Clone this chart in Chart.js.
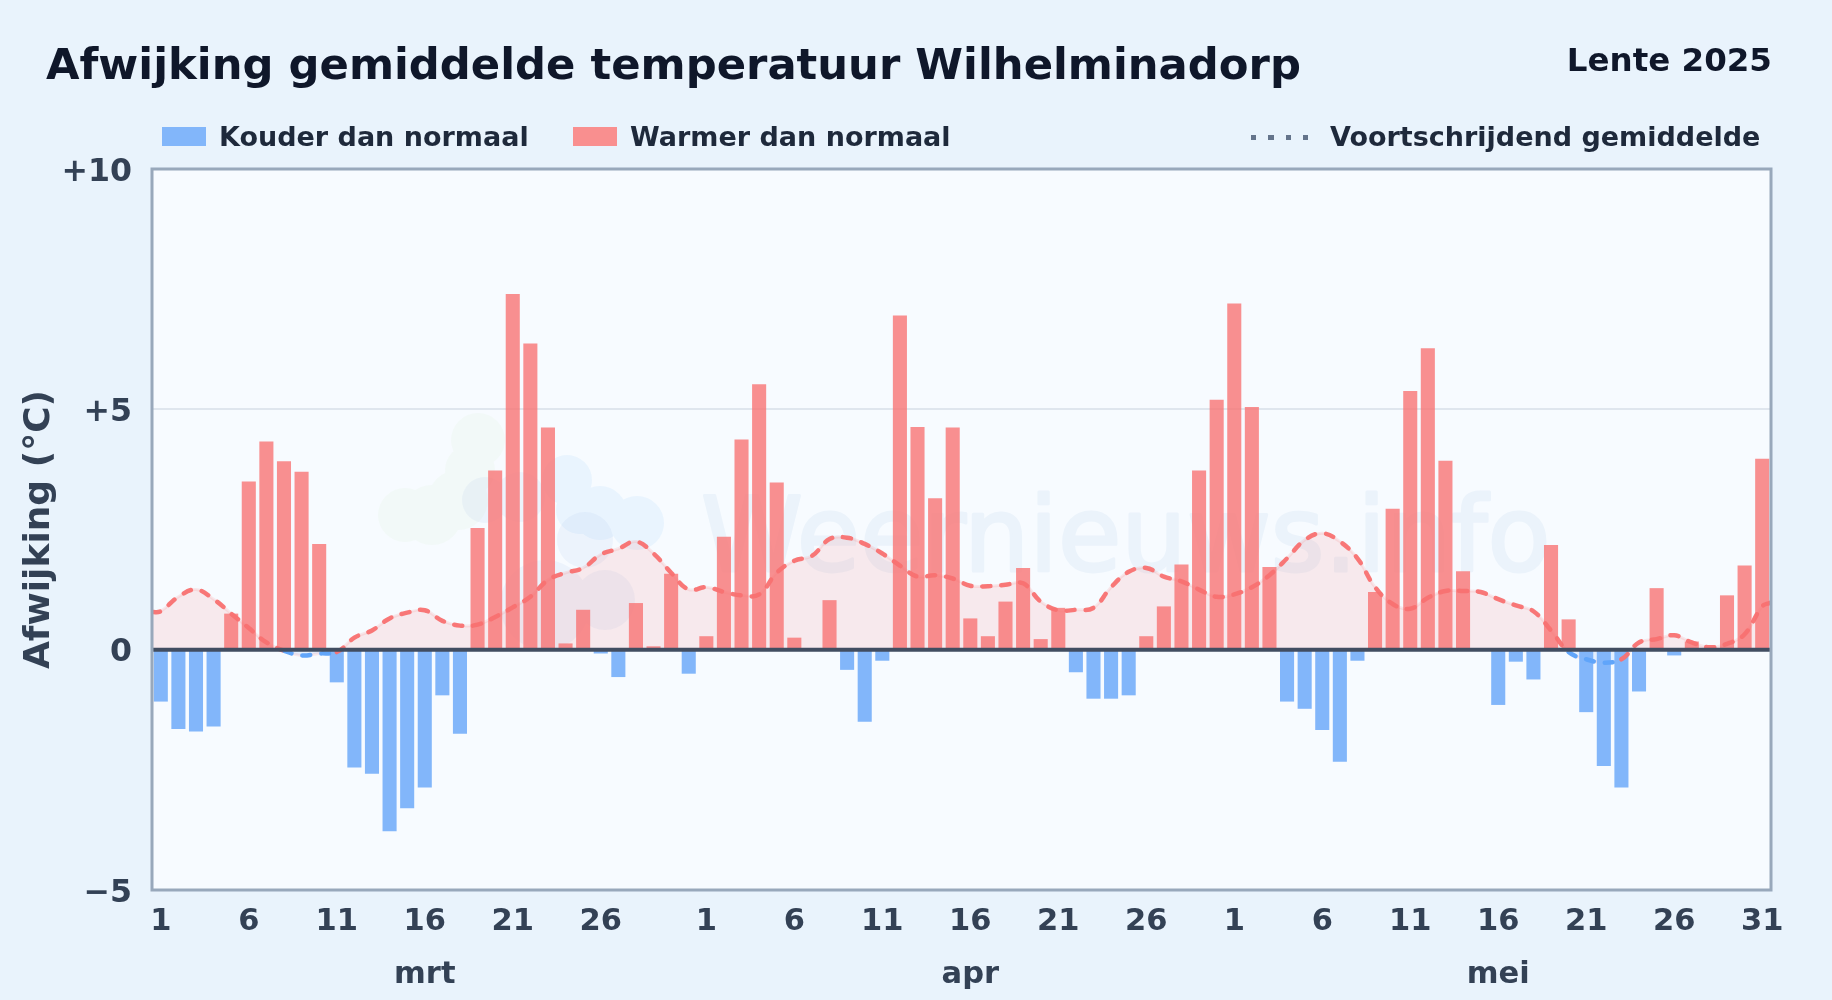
<!DOCTYPE html>
<html lang="nl">
<head>
<meta charset="utf-8">
<title>Afwijking gemiddelde temperatuur Wilhelminadorp</title>
<script src="https://cdn.jsdelivr.net/npm/chart.js@4"></script>
<style>
    html, body { margin: 0; padding: 0; }
    body {
        width: 1832px; height: 1000px; position: relative; overflow: hidden;
        background: #e9f3fc;
        font-family: "DejaVu Sans", sans-serif; font-weight: bold;
    }
    canvas { position: absolute; left: 0; top: 0; }
    .txt { position: absolute; white-space: nowrap; line-height: 1; }
    #title { left: 46px; top: 43px; font-size: 43.3px; color: #0f172a; }
    #period { right: 60px; top: 44px; font-size: 32.5px; color: #0f172a; }
    .legend { top: 123px; font-size: 27px; color: #1e293b; }
    .patch { position: absolute; top: 127px; width: 44px; height: 19px; }
    #dots {
        position: absolute; left: 1251px; top: 135px; width: 58px; height: 5px;
        background: repeating-linear-gradient(90deg, #64748b 0 5px, transparent 5px 17.5px);
    }
</style>
</head>
<body>
<canvas id="chart" width="1832" height="1000"></canvas>
<div class="txt" id="title">Afwijking gemiddelde temperatuur Wilhelminadorp</div>
<div class="txt" id="period">Lente 2025</div>
<div class="patch" style="left:162px;background:#82b6fa"></div>
<div class="txt legend" style="left:219px">Kouder dan normaal</div>
<div class="patch" style="left:573px;background:#f98f8f"></div>
<div class="txt legend" style="left:630px">Warmer dan normaal</div>
<div id="dots"></div>
<div class="txt legend" style="left:1330px">Voortschrijdend gemiddelde</div>
<script>
const days = [
    1,2,3,4,5,6,7,8,9,10,11,12,13,14,15,16,17,18,19,20,21,22,23,24,25,26,27,28,29,30,31,
    1,2,3,4,5,6,7,8,9,10,11,12,13,14,15,16,17,18,19,20,21,22,23,24,25,26,27,28,29,30,
    1,2,3,4,5,6,7,8,9,10,11,12,13,14,15,16,17,18,19,20,21,22,23,24,25,26,27,28,29,30,31
];
const tickDays = [1, 6, 11, 16, 21, 26];
const monthTicks = { 15: 'mrt', 46: 'apr', 76: 'mei' };

const deviation = [
    -1.08,-1.65,-1.7,-1.6,0.75,3.5,4.33,3.92,3.7,2.2,-0.68,-2.45,-2.58,-3.78,-3.3,-2.87,-0.95,-1.75,2.53,3.73,
    7.4,6.37,4.62,0.13,0.83,-0.08,-0.57,0.97,0.07,1.58,-0.5,
    0.28,2.35,4.37,5.52,3.48,0.25,0,1.03,-0.42,-1.5,-0.23,6.95,4.63,3.15,4.62,0.65,0.28,1.0,1.7,0.22,
    0.87,-0.47,-1.02,-1.02,-0.95,0.28,0.9,1.77,3.73,5.2,
    7.2,5.05,1.72,-1.08,-1.23,-1.67,-2.33,-0.23,1.2,2.93,5.38,6.27,3.93,1.63,0,-1.15,-0.25,-0.62,2.18,0.63,
    -1.3,-2.42,-2.87,-0.87,1.28,-0.12,0.17,0,1.13,1.75,3.97
];
const movingAvg = [
    0.8,1.1,1.25,1.05,0.75,0.45,0.15,-0.02,-0.12,-0.08,-0.05,0.25,0.4,0.65,0.77,0.82,0.6,0.5,0.52,0.68,
    0.88,1.1,1.45,1.6,1.7,1.98,2.1,2.25,2.0,1.6,1.25,
    1.3,1.2,1.13,1.15,1.6,1.85,1.95,2.3,2.33,2.2,2.0,1.75,1.52,1.55,1.48,1.33,1.32,1.35,1.38,1.0,
    0.82,0.83,0.87,1.3,1.62,1.7,1.52,1.42,1.25,1.1,
    1.15,1.3,1.55,1.9,2.28,2.42,2.25,1.9,1.3,0.95,0.85,1.08,1.22,1.22,1.2,1.05,0.92,0.8,0.4,-0.05,
    -0.2,-0.27,-0.2,0.15,0.22,0.3,0.15,0.05,0.12,0.32,0.9
];
const avgStart = 0.78;
const avgEnd = 0.98;
const yTicks = { 10: '+10', 5: '+5', 0: '0', '-5': '\u22125' };

const avgPoints = [{ x: -0.5, y: avgStart }]
    .concat(movingAvg.map((y, i) => ({ x: i, y: y })))
    .concat([{ x: 91.5, y: avgEnd }]);

function blob(ctx, circles, color) {
    ctx.beginPath();
    circles.forEach(c => {
        ctx.moveTo(c[0] + c[2], c[1]);
        ctx.arc(c[0], c[1], c[2], 0, Math.PI * 2);
    });
    ctx.fillStyle = color;
    ctx.fill();
}

// achtergrond van het plotvlak en het watermerk
const backdrop = {
    id: 'backdrop',
    beforeDraw(chart) {
        const ctx = chart.ctx, a = chart.chartArea;
        ctx.save();
        ctx.fillStyle = '#f7fbff';
        ctx.fillRect(a.left, a.top, a.width, a.height);
        blob(ctx, [[405,515,27],[432,515,30],[458,500,30],[470,470,25],[478,440,27]], 'rgba(190,225,170,0.08)');
        blob(ctx, [[567,480,25],[600,513,27],[637,523,27],[580,510,24]], 'rgba(147,207,250,0.14)');
        blob(ctx, [[485,500,23],[520,497,25],[585,540,28],[605,600,30],[545,605,45]], 'rgba(130,170,220,0.09)');
        ctx.fillStyle = '#ebf3fb';
        ctx.strokeStyle = '#ebf3fb';
        ctx.lineWidth = 3;
        ctx.lineJoin = 'round';
        ctx.font = '103px "DejaVu Sans"';
        ctx.textAlign = 'left';
        ctx.textBaseline = 'alphabetic';
        ctx.fillText('Weernieuws.info', 701, 571);
        ctx.strokeText('Weernieuws.info', 701, 571);
        ctx.restore();
    },
    afterDatasetsDraw(chart) {
        const ctx = chart.ctx, a = chart.chartArea;
        const zero = chart.scales.y.getPixelForValue(0);
        ctx.save();
        ctx.strokeStyle = '#414d61';
        ctx.lineWidth = 4;
        ctx.beginPath();
        ctx.moveTo(a.left, zero);
        ctx.lineTo(a.right, zero);
        ctx.stroke();
        ctx.strokeStyle = '#98a8bb';
        ctx.lineWidth = 3;
        ctx.strokeRect(a.left, a.top, a.width, a.height);
        ctx.restore();
    }
};

new Chart(document.getElementById('chart'), {
    type: 'bar',
    data: {
        labels: days,
        datasets: [
            {
                type: 'line',
                data: avgPoints,
                xAxisID: 'xLine',
                order: 0,
                borderColor: '#f87171',
                borderWidth: 4.5,
                borderDash: [8, 11],
                borderCapStyle: 'round',
                tension: 0.4,
                pointRadius: 0,
                fill: false,
                segment: {
                    borderColor: c => (c.p0.parsed.y < 0 && c.p1.parsed.y < 0 ? '#60a5fa' : 'rgba(248,113,113,0.95)')
                }
            },
            {
                data: deviation,
                order: 1,
                grouped: false,
                backgroundColor: c => (c.raw < 0 ? '#82b6fa' : 'rgba(248,113,113,0.78)'),
                barPercentage: 0.8,
                categoryPercentage: 1
            },
            {
                type: 'line',
                data: avgPoints,
                xAxisID: 'xLine',
                order: 2,
                borderColor: 'rgba(248,113,113,0.14)',
                borderWidth: 3,
                tension: 0.4,
                pointRadius: 0,
                fill: { target: 'origin', above: 'rgba(248,113,113,0.13)', below: 'rgba(96,165,250,0.13)' }
            }
        ]
    },
    options: {
        responsive: false,
        animation: false,
        devicePixelRatio: 1,
        layout: { padding: { top: 169, right: 61 } },
        plugins: { legend: { display: false }, title: { display: false }, tooltip: { enabled: false } },
        scales: {
            x: {
                offset: true,
                afterFit: s => { s.height = 110; },
                border: { display: false },
                grid: { display: false },
                ticks: {
                    autoSkip: false,
                    maxRotation: 0,
                    padding: -2,
                    color: '#334155',
                    font: { size: 30.5, weight: 'bold', family: '"DejaVu Sans"', lineHeight: 1.72 },
                    callback(value, index) {
                        if (index === 91) return '31';
                        if (!tickDays.includes(days[index])) return '';
                        if (monthTicks[index]) return [String(days[index]), monthTicks[index]];
                        return String(days[index]);
                    }
                }
            },
            xLine: { type: 'linear', display: false, offset: false, min: -0.5, max: 91.5 },
            y: {
                min: -5,
                max: 10,
                afterFit: s => { s.width = 152; },
                border: { display: false },
                grid: {
                    drawTicks: false,
                    lineWidth: 2,
                    color: c => (c.tick.value === 5 ? '#dfe6ee' : 'transparent')
                },
                title: {
                    display: true,
                    text: 'Afwijking (\u00b0C)',
                    color: '#334155',
                    font: { size: 36, weight: 'bold', family: '"DejaVu Sans"' },
                    padding: { top: 18, bottom: 0 }
                },
                ticks: {
                    stepSize: 5,
                    padding: 20,
                    color: '#334155',
                    // the empty first line plus the small lineHeight push each label 3.5px down
                    font: { size: 31.6, weight: 'bold', family: '"DejaVu Sans"', lineHeight: '7px' },
                    callback: v => ['', yTicks[v]]
                }
            }
        }
    },
    plugins: [backdrop]
});
</script>
</body>
</html>
